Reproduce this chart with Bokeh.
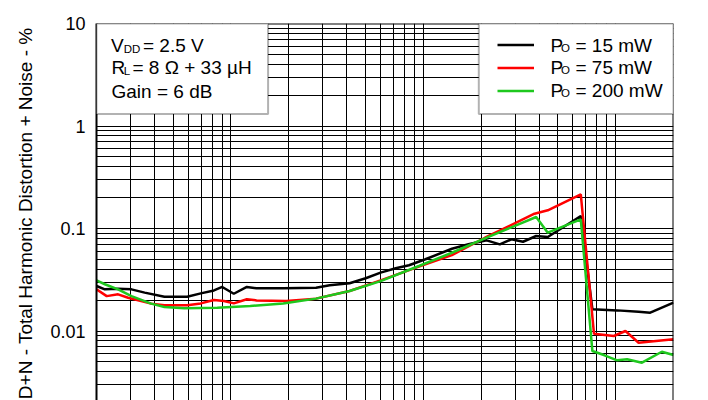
from bokeh.plotting import figure
from bokeh.models import (Range1d, FixedTicker, Grid, BoxAnnotation, Label, Span, Title,
                          Legend, LegendItem, CustomJSTickFormatter)
from bokeh.embed import file_html
from bokeh.resources import INLINE

# ---------------- data ----------------
freq_15mw = [20, 22.1, 25.9, 30.4, 35.6, 45.1, 59.2, 69.7, 81.6, 90.1,
             103.5, 121, 136, 187, 277, 326, 414, 502, 600, 719,
             843, 1026, 1409, 1718, 2136, 2500, 2872, 3300, 3864, 4440,
             6592, 7574, 10190, 13170, 15140, 20000]
thd_15mw = [0.0275, 0.0255, 0.0259, 0.0255, 0.0237, 0.0216, 0.0216, 0.0233, 0.0249, 0.0269,
            0.0231, 0.0269, 0.0261, 0.0261, 0.0264, 0.0279, 0.0292, 0.0327, 0.0371, 0.0409,
            0.0438, 0.0501, 0.0635, 0.0701, 0.0767, 0.0701, 0.0785, 0.0743, 0.0845, 0.0826,
            0.1324, 0.0163, 0.0159, 0.0154, 0.0151, 0.0189]

freq_75mw = [20, 22.6, 25.9, 29.2, 38.5, 45.1, 59.2, 69.7, 81.6, 91.9,
             103.5, 121, 136, 194, 277, 414, 600, 949, 1409, 2092,
             3787, 4440, 6592, 7720, 9788, 11250, 13170, 20000]
thd_75mw = [0.0255, 0.0219, 0.0228, 0.0211, 0.0185, 0.0178, 0.0178, 0.0186, 0.0201, 0.0196,
            0.0186, 0.0204, 0.0199, 0.0196, 0.0207, 0.0246, 0.0312, 0.0425, 0.055, 0.0813,
            0.1394, 0.1506, 0.2157, 0.00941, 0.00894, 0.0100, 0.00769, 0.0083]

freq_200mw = [20, 22.1, 25.9, 30.4, 38.5, 45.1, 57.2, 84.9, 126, 187,
              277, 414, 600, 949, 1409, 2092, 3864, 4440, 6592, 7574,
              8692, 10190, 11480, 13710, 17390, 20000]
thd_200mw = [0.0312, 0.0286, 0.0255, 0.0219, 0.0185, 0.01714, 0.01664, 0.01687, 0.01754, 0.0186,
             0.0207, 0.0246, 0.0307, 0.0431, 0.058, 0.0802, 0.1295, 0.091, 0.123, 0.00638,
             0.00583, 0.00518, 0.0053, 0.00491, 0.00628, 0.00583]

y_major_ticks = [0.001, 0.01, 0.1, 1, 10]
y_minor_ticks = [k * d for d in (0.001, 0.01, 0.1, 1) for k in range(2, 10)]
x_major_ticks = [100, 1000, 10000]
x_minor_ticks = [k * d for d in (10, 100, 1000) for k in range(2, 10) if k * d > 20]

y_label = "THD+N - Total Harmonic Distortion + Noise - %"
series_colors = ["#000000", "#ff0000", "#1ec81e"]

FONT = "Liberation Sans"

# ---------------- figure ----------------
p = figure(width=708, height=400, x_axis_type="log", y_axis_type="log",
           x_axis_location=None, output_backend="svg", toolbar_location=None,
           x_range=Range1d(20, 20000), y_range=Range1d(0.0021, 10),
           min_border_left=92, min_border_right=35, min_border_top=23, min_border_bottom=0)
p.outline_line_color = None
p.background_fill_color = "white"
p.border_fill_color = "white"

yt = FixedTicker(ticks=y_major_ticks, minor_ticks=y_minor_ticks)
xt = FixedTicker(ticks=x_major_ticks, minor_ticks=x_minor_ticks)

yax = p.yaxis[0]
yax.ticker = yt
yax.formatter = CustomJSTickFormatter(code="return tick >= 1 ? tick.toFixed(0) : String(tick);")
yax.major_tick_out = 0
yax.major_tick_in = 0
yax.minor_tick_out = 0
yax.minor_tick_in = 0
yax.axis_line_width = 2
yax.axis_line_color = "black"
yax.major_label_standoff = 11
yax.major_label_text_font = FONT
yax.major_label_text_font_size = "18px"
yax.major_label_text_color = "black"

# y axis title (the chart is cropped at the bottom, so the title runs past the edge)
p.add_layout(Title(text=y_label, align="left", offset=-24, standoff=24,
                   text_font=FONT, text_font_size="19px", text_font_style="normal",
                   text_color="black"), "left")

p.ygrid.ticker = yt
p.ygrid.grid_line_color = "black"
p.ygrid.grid_line_width = 1
p.ygrid.minor_grid_line_color = "black"
p.ygrid.minor_grid_line_width = 1

xgrid = Grid(dimension=0, ticker=xt, grid_line_color="black", grid_line_width=1,
             minor_grid_line_color="black", minor_grid_line_width=1)
p.add_layout(xgrid)

# frame borders (top and right; left is the y axis line)
p.add_layout(Span(location=10, dimension="width", line_color="black", line_width=2))
p.add_layout(Span(location=20000, dimension="height", line_color="black", line_width=2))

r1 = p.line(freq_15mw, thd_15mw, line_color=series_colors[0], line_width=2.5)
r2 = p.line(freq_75mw, thd_75mw, line_color=series_colors[1], line_width=2.5)
r3 = p.line(freq_200mw, thd_200mw, line_color=series_colors[2], line_width=2.5)

# boxes
p.add_layout(BoxAnnotation(left=20, right=156, bottom=1.31, top=10, fill_color="white", fill_alpha=1,
                           line_color="black", line_width=2))
p.add_layout(BoxAnnotation(left=1944, right=20000, bottom=1.31, top=10, fill_color="white", fill_alpha=1,
                           line_color="black", line_width=2))

def lab(text, x, y, size="19px", **kw):
    p.add_layout(Label(text=text, x=x, y=y, x_units="screen", y_units="screen",
                       text_font=FONT, text_font_size=size, text_color="black",
                       text_baseline="alphabetic", **kw))

SUB = "11.5px"
# condition box texts
lab("V", 14.5, 354.7)
lab("DD", 27.3, 352, size=SUB)
lab("= 2.5 V", 46.5, 354.7)
lab("R", 15, 332.7)
lab("L", 27.3, 329.7, size=SUB)
lab("= 8 \u03a9 + 33 \u00b5H", 36, 332.7)
lab("Gain = 6 dB", 15, 308.7)

# legend texts
for yb, txt in zip((355.3, 332.7, 310.3), ("= 15 mW", "= 75 mW", "= 200 mW")):
    lab("P", 454, yb)
    lab("O", 464.5, yb - 2.6, size=SUB)
    lab(txt, 479, yb)

legend = Legend(items=[LegendItem(label=" ", renderers=[r]) for r in (r1, r2, r3)],
                location=(401, 298), glyph_width=37, glyph_height=23, label_height=23,
                label_standoff=0, spacing=0, padding=0, margin=0,
                label_text_font_size="10px", border_line_color=None, background_fill_alpha=0)
p.add_layout(legend)

open("out.html", "w").write(file_html(p, INLINE))
